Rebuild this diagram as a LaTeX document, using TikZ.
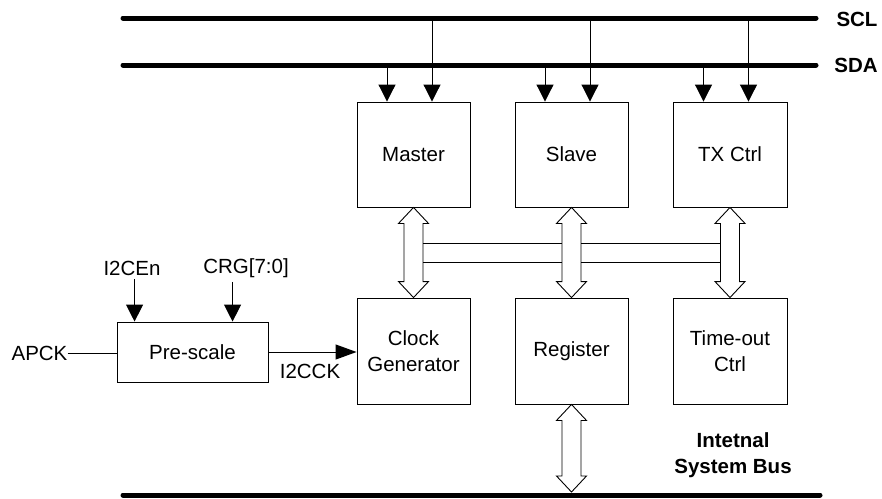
\documentclass[tikz,border=0pt]{standalone}
\usepackage{fontspec}
\setmainfont{Liberation Sans}
\usetikzlibrary{arrows.meta,calc}
\begin{document}
\begin{tikzpicture}[x=1pt,y=-1pt,
  font=\fontsize{20.5}{25.5}\selectfont,
  blk/.style={draw,line width=0.9pt,minimum height=105pt,align=center,inner sep=0pt},
  bus/.style={line width=5pt,line cap=round},
  arr/.style={line width=1pt,-{Triangle[length=17pt,width=17pt]}},
  sig/.style={line width=1pt},
  dbl/.style={draw,line width=0.9pt,fill=white,line join=miter},
  lbl/.style={inner sep=0pt},
  blbl/.style={inner sep=0pt,font=\fontsize{20.5}{25.5}\selectfont\bfseries,align=center}]
\useasboundingbox (0,0) rectangle (882,498);
% buses
\coordinate (sclL) at (123,18);  \coordinate (sclR) at (816,18);
\coordinate (sdaL) at (123,65);  \coordinate (sdaR) at (816,65);
\coordinate (busL) at (123,495); \coordinate (busR) at (820,495);
\draw[bus] (sclL) -- (sclR);
\draw[bus] (sdaL) -- (sdaR);
\draw[bus] (busL) -- (busR);
\node[blbl] (scl) at (857,19) {SCL};
\node[blbl] (sda) at (856,65) {SDA};
\node[blbl] (isb) at (733,455) {Intetnal\\System Bus};
% blocks
\node[blk,minimum width=113pt] (master) at (413.5,154.5) {Master};
\node[blk,minimum width=113pt] (slave)  at (571.5,154.5) {Slave};
\node[blk,minimum width=114pt] (tx)     at (730,154.5)   {TX Ctrl};
\node[blk,minimum width=113pt,minimum height=106pt] (clk) at (413.5,351) {Clock\\Generator};
\node[blk,minimum width=113pt,minimum height=106pt] (reg) at (571.5,351) {Register};
\node[blk,minimum width=114pt,minimum height=106pt] (tout) at (730,351) {Time-out\\Ctrl};
\node[blk,minimum width=151pt,minimum height=60pt] (pre) at (192.5,352) {Pre-scale};
% bus drops
\foreach \b in {master,slave,tx}{
  \coordinate (\b-a) at ($(\b.north)+(-26.5,0)$);
  \coordinate (\b-b) at ($(\b.north)+(18.5,0)$);
  \draw[arr] (\b-a |- sdaL) -- (\b-a);
  \draw[arr] (\b-b |- sclL) -- (\b-b);
}
% double arrows
\newcommand\dblarr[2]{%
  \draw[dbl] (#1) -- ++(15,16) -- ++(-5.5,0) -- ($(#2)+(9.5,-16)$) -- ++(5.5,0)
    -- (#2) -- ++(-15,-16) -- ++(5.5,0) -- ($(#1)+(-9.5,16)$) -- ++(-5.5,0) -- cycle;}
\dblarr{master.south}{clk.north}
\dblarr{slave.south}{reg.north}
\dblarr{tx.south}{tout.north}
\coordinate (regbus) at ($(reg.south |- busL)+(0,-3)$);
\dblarr{reg.south}{regbus}
% horizontal link between the double arrows
\draw[line width=0.9pt] ($(master.south)+(9.5,36)$) -- ($(slave.south)+(-9.5,36)$)
  ($(master.south)+(9.5,55)$) -- ($(slave.south)+(-9.5,55)$)
  ($(slave.south)+(9.5,36)$) -- ($(tx.south)+(-9.5,36)$)
  ($(slave.south)+(9.5,55)$) -- ($(tx.south)+(-9.5,55)$);
% pre-scale signals
\node[lbl] (apck) at (39.5,353) {APCK};
\node[lbl] (i2cen) at (132,268) {I2CEn};
\node[lbl] (crg) at (246,268) {CRG[7:0]};
\node[lbl] (i2cck) at (310,371) {I2CCK};
\draw[sig] (apck.east) -- (pre.west |- apck.east);
\coordinate (pe1) at ($(pre.north west)+(18,0)$);
\coordinate (pe2) at ($(pre.north west)+(116,0)$);
\draw[arr] ($(i2cen.south -| pe1)+(0,4)$) -- (pe1);
\draw[arr] ($(crg.south -| pe2)+(0,4)$) -- (pe2);
\draw[line width=1pt,-{Triangle[length=21pt,width=15pt]}] (pre.east) -- (clk.west |- pre.east);
\end{tikzpicture}
\end{document}
